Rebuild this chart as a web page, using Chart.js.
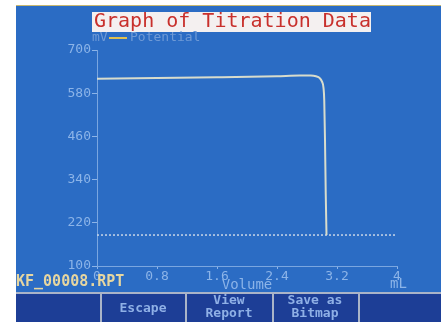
<!DOCTYPE html>
<html>
<head>
<meta charset="utf-8">
<style>
  html, body { margin: 0; padding: 0; background: #fff; }
  #wrap { width: 445px; height: 322px; position: relative; }
</style>
<script src="https://cdn.jsdelivr.net/npm/chart.js@4/dist/chart.umd.min.js"></script>
</head>
<body>
<div id="wrap"><canvas id="myChart" width="445" height="322"></canvas></div>
<script>
// titration data
const volume = [0, 0.8, 1.6, 2.4, 2.7, 2.85, 2.92, 2.97, 3.0, 3.02, 3.03, 3.04, 3.05, 3.06];
const potential = [620, 622, 624, 627, 629, 629, 627, 622, 612, 595, 560, 450, 300, 186];
const endpointLevel = [186, 186];
const endpointVolume = [0, 4];
const yTicks = [100, 220, 340, 460, 580, 700];
const xTicks = [0, 0.8, 1.6, 2.4, 3.2, 4];
const buttons = [["", ""], ["Escape"], ["View", "Report"], ["Save as", "Bitmap"], [""]];

const MONO = "'DejaVu Sans Mono', 'Liberation Mono', monospace";
const BLUE = "#2b6cc4";
const LIGHT = "#8cb4e8";

// screen frame, title box, legend and soft keys
const screenPlugin = {
  id: "screen",
  beforeDraw(chart) {
    const ctx = chart.ctx;
    ctx.save();
    ctx.fillStyle = "#fff";
    ctx.fillRect(0, 0, 445, 322);
    ctx.fillStyle = BLUE;
    ctx.fillRect(16, 5, 425, 317);
    ctx.fillStyle = "#c8b870";
    ctx.fillRect(16, 5, 425, 1);
    // toolbar
    ctx.fillStyle = "#1d3e96";
    ctx.fillRect(16, 294, 425, 28);
    ctx.fillStyle = "#aab4c8";
    ctx.fillRect(16, 292, 425, 2);
    [100, 185, 272, 358].forEach(x => ctx.fillRect(x, 294, 2, 28));
    ctx.restore();
  },
  afterDraw(chart) {
    const ctx = chart.ctx;
    ctx.save();
    // title
    ctx.fillStyle = "#f4f0f0";
    ctx.fillRect(92, 12, 279, 20);
    ctx.font = "20px " + MONO;
    ctx.fillStyle = "#c8302c";
    ctx.textBaseline = "middle";
    ctx.textAlign = "left";
    ctx.fillText("Graph of Titration Data", 94, 22);
    // legend
    ctx.font = "13px " + MONO;
    ctx.fillStyle = "#6f9ad6";
    ctx.fillText("mV", 92, 38);
    ctx.fillStyle = "#e0c050";
    ctx.fillRect(109, 37, 18, 2);
    ctx.fillStyle = "#6f9ad6";
    ctx.fillText("Potential", 130, 38);
    // file name and unit
    ctx.font = "bold 15px " + MONO;
    ctx.fillStyle = "#e6d6a0";
    ctx.fillText("KF_00008.RPT", 16, 282);
    ctx.font = "14px " + MONO;
    ctx.fillStyle = LIGHT;
    ctx.fillText("mL", 390, 284);
    // soft keys
    ctx.font = "bold 13px " + MONO;
    ctx.fillStyle = "#8fb0e6";
    ctx.textAlign = "center";
    const centers = [58, 143, 229, 315, 400];
    buttons.forEach((lines, i) => {
      if (lines.length === 1) {
        ctx.fillText(lines[0], centers[i], 309);
      } else {
        ctx.fillText(lines[0], centers[i], 301);
        ctx.fillText(lines[1], centers[i], 314);
      }
    });
    ctx.restore();
  }
};

new Chart(document.getElementById("myChart"), {
  type: "line",
  data: {
    datasets: [
      {
        label: "Potential",
        data: volume.map((v, i) => ({ x: v, y: potential[i] })),
        borderColor: "#d8dccc",
        borderWidth: 2,
        pointRadius: 0,
        cubicInterpolationMode: "monotone",
      },
      {
        label: "Endpoint",
        data: endpointVolume.map((v, i) => ({ x: v, y: endpointLevel[i] })),
        borderColor: "#c8d6e8",
        borderWidth: 1.5,
        borderDash: [2, 2],
        pointRadius: 0,
      },
    ],
  },
  options: {
    responsive: false,
    animation: false,
    layout: { padding: { top: 50, right: 48, left: 0, bottom: 0 } },
    plugins: {
      legend: { display: false },
      title: { display: false },
      tooltip: { enabled: false },
    },
    scales: {
      x: {
        type: "linear",
        min: 0,
        max: 4,
        afterBuildTicks: (s) => { s.ticks = xTicks.map(v => ({ value: v })); },
        afterFit: (s) => { s.height = 56; },
        ticks: {
          color: LIGHT,
          font: { family: MONO, size: 13 },
          padding: 0,
          maxRotation: 0,
          callback: (v) => String(v),
        },
        grid: { drawOnChartArea: false, color: LIGHT, tickLength: 3 },
        border: { color: "#7aa6e0", width: 1 },
        title: {
          display: true,
          text: "Volume",
          color: LIGHT,
          font: { family: MONO, size: 14 },
          padding: { top: 0, bottom: 28 },
        },
      },
      y: {
        min: 100,
        max: 700,
        afterBuildTicks: (s) => { s.ticks = yTicks.map(v => ({ value: v })); },
        afterFit: (s) => { s.width = 97; },
        ticks: {
          color: LIGHT,
          font: { family: MONO, size: 13 },
          padding: 1,
        },
        grid: { drawOnChartArea: false, color: LIGHT, tickLength: 5 },
        border: { color: "#7aa6e0", width: 1 },
      },
    },
  },
  plugins: [screenPlugin],
});
</script>
</body>
</html>
